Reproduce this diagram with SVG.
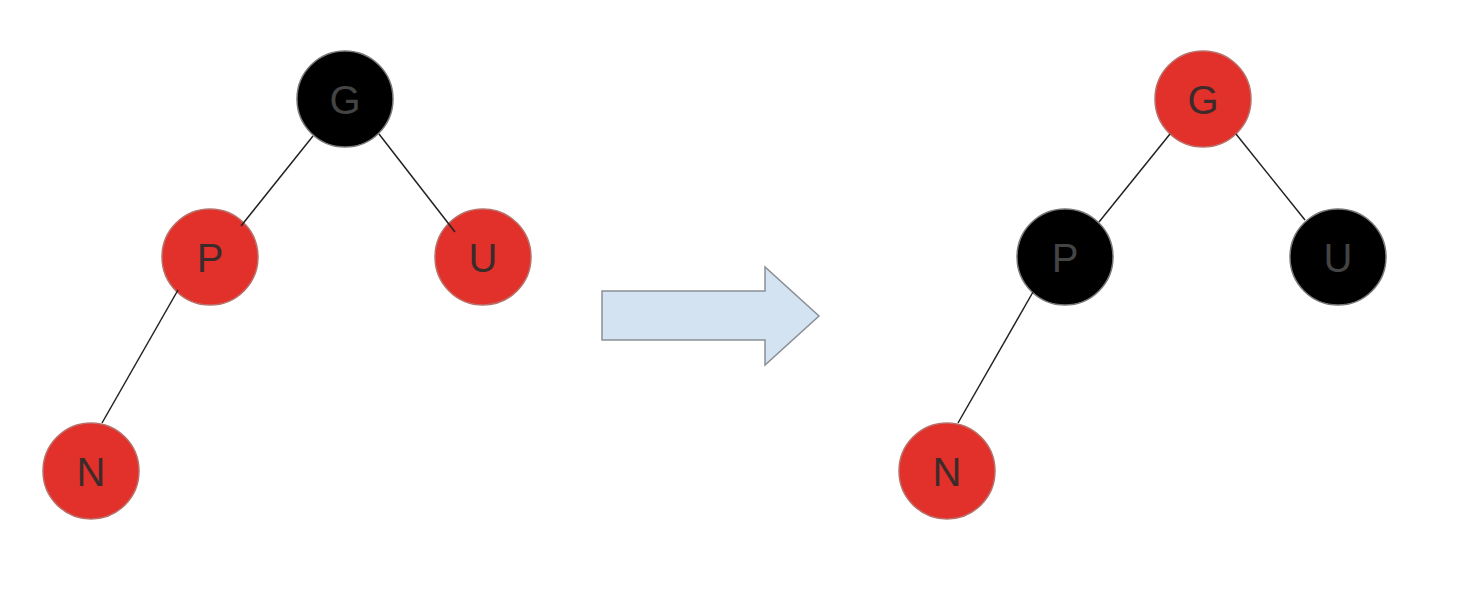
<svg xmlns="http://www.w3.org/2000/svg" width="1484" height="602" viewBox="0 0 1484 602">
<style>
.red{fill:#e2302a;stroke:#b9706a;stroke-width:1.5}
.blk{fill:#000;stroke:#777;stroke-width:1.5}
.tr{font-family:"Liberation Sans",Arial,sans-serif;font-size:40px;fill:#3b2b2b;text-anchor:middle;dominant-baseline:central}
.tb{font-family:"Liberation Sans",Arial,sans-serif;font-size:40px;fill:#444;text-anchor:middle;dominant-baseline:central}
.edge{stroke:#222;stroke-width:1.5;fill:none}
</style>
<rect width="1484" height="602" fill="#fff"/>
<g id="left-G"><circle class="blk" cx="345" cy="99" r="48"/><text class="tb" x="345" y="100">G</text></g>
<g id="left-P"><circle class="red" cx="210" cy="257" r="48"/><text class="tr" x="210" y="258">P</text></g>
<g id="left-U"><circle class="red" cx="483" cy="257" r="48"/><text class="tr" x="483" y="258">U</text></g>
<g id="left-N"><circle class="red" cx="91" cy="471" r="48"/><text class="tr" x="91" y="472">N</text></g>
<g id="right-G"><circle class="red" cx="1203" cy="99" r="48"/><text class="tr" x="1203" y="100">G</text></g>
<g id="right-P"><circle class="blk" cx="1065" cy="257" r="48"/><text class="tb" x="1065" y="258">P</text></g>
<g id="right-U"><circle class="blk" cx="1338" cy="257" r="48"/><text class="tb" x="1338" y="258">U</text></g>
<g id="right-N"><circle class="red" cx="947" cy="471" r="48"/><text class="tr" x="947" y="472">N</text></g>
<g id="connectors">
<line class="edge" x1="313" y1="136" x2="241" y2="226"/>
<line class="edge" x1="379" y1="134" x2="455" y2="232"/>
<line class="edge" x1="178" y1="290" x2="102" y2="423"/>
<line class="edge" x1="1170" y1="134" x2="1099" y2="222"/>
<line class="edge" x1="1236" y1="134" x2="1305" y2="220"/>
<line class="edge" x1="1033" y1="292" x2="958" y2="423"/>
</g>
<g id="arrow"><polygon points="602,291 765,291 765,267 819,316 765,365 765,340 602,340" fill="#d3e3f1" stroke="#8a8f94" stroke-width="1.5"/></g>
</svg>
